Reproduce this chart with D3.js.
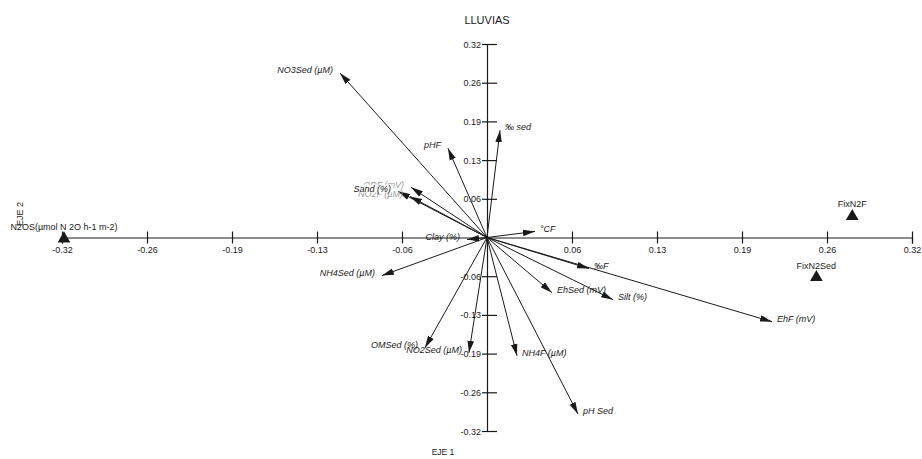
<!DOCTYPE html>
<html>
<head>
<meta charset="utf-8">
<script src="https://cdn.jsdelivr.net/npm/d3@7/dist/d3.min.js"></script>
<style>
  html, body { margin: 0; padding: 0; background: #fff; }
  svg { display: block; font-family: Arial, "Liberation Sans", sans-serif; }
</style>
</head>
<body>
<svg id="chart" width="922" height="459"></svg>
<script>
// ---- data ----
const vectorNames = ["NO3Sed (µM)", "pHF", "‰ sed", "ODF (mV)", "Sand (%)", "NO2F (µM)", "Clay (%)", "°CF",
  "‰F", "EhSed (mV)", "Silt (%)", "EhF (mV)", "NH4Sed (µM)", "OMSed (%)", "NO2Sed (µM)", "NH4F (µM)", "pH Sed"];
const vectorX = [-0.1107, -0.0294, 0.0098, -0.0572, -0.0670, -0.0580, -0.0151, 0.0361,
  0.0768, 0.0489, 0.0949, 0.2146, -0.0791, -0.0467, -0.0136, 0.0226, 0.0685];
const vectorY = [0.2720, 0.1476, 0.1774, 0.0829, 0.0763, 0.0680, -0.0033, 0.0100,
  -0.0514, -0.0912, -0.1028, -0.1393, -0.0630, -0.1824, -0.1907, -0.1957, -0.2919];
const ghostLabels = ["ODF (mV)", "NO2F (µM)"];

const pointNames = ["N2OS(µmol N 2O h-1 m-2)", "FixN2F", "FixN2Sed"];
const pointX = [-0.3185, 0.2750, 0.2480];
const pointY = [-0.0020, 0.0350, -0.0660];

const tickValues = [-0.32, -0.256, -0.192, -0.128, -0.064, 0.064, 0.128, 0.192, 0.256, 0.32];
const tickLabels = ["-0.32", "-0.26", "-0.19", "-0.13", "-0.06", "0.06", "0.13", "0.19", "0.26", "0.32"];

const title = "LLUVIAS";
const xTitle = "EJE 1";
const yTitle = "EJE 2";

// ---- drawing ----
const svg = d3.select("#chart");
const ink = "#1a1a1a";

const x = d3.scaleLinear().domain([-0.32, 0.32]).range([62, 912]);
const y = d3.scaleLinear().domain([-0.32, 0.32]).range([431, 44]);

svg.append("defs").append("marker")
  .attr("id", "arrow")
  .attr("markerUnits", "userSpaceOnUse")
  .attr("viewBox", "0 -4 12 8")
  .attr("refX", 12).attr("refY", 0)
  .attr("markerWidth", 12).attr("markerHeight", 8)
  .attr("orient", "auto")
  .append("path").attr("d", "M0,-3.3L12,0L0,3.3Z").attr("fill", ink);

// horizontal axis
const xAxis = svg.append("g")
  .attr("transform", `translate(0,${y(0)})`)
  .call(d3.axisBottom(x).tickValues(tickValues)
    .tickFormat((d, i) => tickLabels[i]).tickSizeOuter(0).tickSize(6));
xAxis.select(".domain").attr("stroke", ink).attr("stroke-width", 1.2);
xAxis.selectAll(".tick line").attr("y1", -6).attr("y2", 6).attr("stroke", ink).attr("stroke-width", 1.2);
xAxis.selectAll(".tick text").attr("y", 9).attr("dy", "0.71em")
  .attr("font-size", 9).attr("fill", ink).attr("font-family", "Arial, 'Liberation Sans', sans-serif");

// vertical axis
const yAxis = svg.append("g")
  .attr("transform", `translate(${x(0)},0)`)
  .call(d3.axisRight(y).tickValues(tickValues)
    .tickFormat((d, i) => tickLabels[i]).tickSizeOuter(0).tickSize(10));
yAxis.select(".domain").attr("stroke", ink).attr("stroke-width", 1.2);
yAxis.selectAll(".tick line").attr("x1", -5).attr("x2", 10).attr("stroke", ink).attr("stroke-width", 1.2);
yAxis.selectAll(".tick text").attr("x", -6).attr("text-anchor", "end").attr("dy", "0.34em")
  .attr("font-size", 9).attr("fill", ink).attr("font-family", "Arial, 'Liberation Sans', sans-serif");

// vectors
const vectors = vectorNames.map((n, i) => ({ name: n, vx: vectorX[i], vy: vectorY[i] }));
svg.append("g").selectAll("line").data(vectors).join("line")
  .attr("x1", x(0)).attr("y1", y(0))
  .attr("x2", d => x(d.vx)).attr("y2", d => y(d.vy))
  .attr("stroke", ink).attr("stroke-width", 1)
  .attr("marker-end", "url(#arrow)");

const labG = svg.append("g");
// ghost labels first (partially covered)
const ordered = vectors.filter(d => ghostLabels.includes(d.name)).concat(vectors.filter(d => !ghostLabels.includes(d.name)));
ordered.forEach(d => {
  const left = d.vx < 0;
  const ghost = ghostLabels.includes(d.name);
  const t = labG.append("text")
    .attr("x", x(d.vx) + (left ? -7 : 5))
    .attr("y", y(d.vy) - 3)
    .attr("dy", "0.35em")
    .attr("text-anchor", left ? "end" : "start")
    .attr("font-size", 9)
    .attr("font-style", "italic")
    .attr("fill", ghost ? "#9a9a9a" : ink)
    .text(d.name);
  if (d.name === "Sand (%)") {
    const b = t.node().getBBox();
    labG.insert("rect", () => t.node())
      .attr("x", b.x - 1).attr("y", b.y + 1).attr("width", b.width + 2).attr("height", b.height - 2)
      .attr("fill", "#fff").attr("opacity", 0.85);
  }
});

// points
const points = pointNames.map((n, i) => ({ name: n, px: pointX[i], py: pointY[i] }));
const tri = d3.symbol().type(d3.symbolTriangle).size(70);
svg.append("g").selectAll("path").data(points).join("path")
  .attr("transform", d => `translate(${x(d.px)},${y(d.py)})`)
  .attr("d", tri).attr("fill", ink);
svg.append("g").selectAll("text").data(points).join("text")
  .attr("x", d => x(d.px)).attr("y", d => y(d.py) - 12)
  .attr("dy", "0.35em").attr("text-anchor", "middle")
  .attr("font-size", 9).attr("fill", ink)
  .text(d => d.name);

// titles
svg.append("text").attr("x", 487).attr("y", 20).attr("dy", "0.35em")
  .attr("text-anchor", "middle").attr("font-size", 11).attr("fill", ink).text(title);
svg.append("text").attr("x", 443).attr("y", 452).attr("dy", "0.35em")
  .attr("text-anchor", "middle").attr("font-size", 8.5).attr("fill", ink).text(xTitle);
svg.append("text").attr("transform", "translate(20,214) rotate(-90)").attr("dy", "0.35em")
  .attr("text-anchor", "middle").attr("font-size", 9).attr("fill", ink).text(yTitle);
</script>
</body>
</html>
